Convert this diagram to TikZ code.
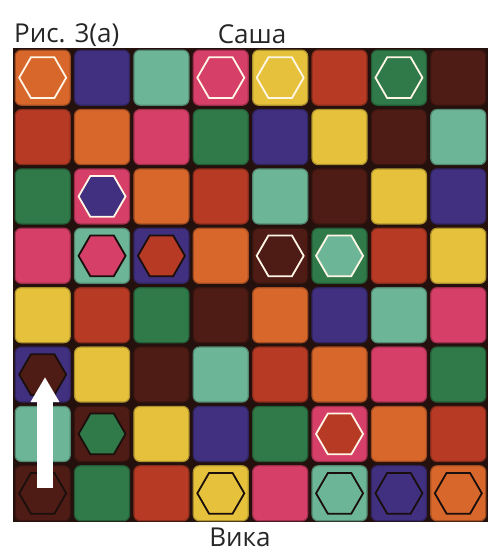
\documentclass[tikz,border=0pt]{standalone}
\usepackage{fontspec}
\setmainfont{Open Sans}
\usetikzlibrary{shapes.geometric,arrows.meta}
\definecolor{cO}{HTML}{D8672C}
\definecolor{cP}{HTML}{40307F}
\definecolor{cT}{HTML}{6DB597}
\definecolor{cK}{HTML}{D63F68}
\definecolor{cY}{HTML}{E6C23C}
\definecolor{cR}{HTML}{B63A24}
\definecolor{cG}{HTML}{2F7A48}
\definecolor{cB}{HTML}{4E1C15}
\definecolor{frame}{HTML}{24100C}
\definecolor{rimw}{HTML}{FFF6E6}
\definecolor{rimk}{HTML}{1A0F0C}
\tikzset{
  tile/.style={rounded corners=6pt,minimum size=55pt,inner sep=0pt,line width=1.2pt},
  hexw/.style={regular polygon,regular polygon sides=6,draw=rimw,line width=1.8pt,
    minimum size=47pt,inner sep=0pt},
  hexk/.style={hexw,draw=rimk},
  caption/.style={font=\fontsize{26}{29}\selectfont,text=black!85,inner sep=0pt},
  moveto/.style={draw=white,line width=16pt,-{Triangle[length=25pt,width=27pt]}}
}
\begin{document}
\begin{tikzpicture}[x=1pt,y=-1pt]
  \useasboundingbox (0,0) rectangle (490,553);
  % board
  \fill[frame] (13,48) rectangle (488,522);
  \foreach \row [count=\r] in {
      {cO,cP,cT,cK,cY,cR,cG,cB},
      {cR,cO,cK,cG,cP,cY,cB,cT},
      {cG,cK,cO,cR,cT,cB,cY,cP},
      {cK,cT,cP,cO,cB,cG,cR,cY},
      {cY,cR,cG,cB,cO,cP,cT,cK},
      {cP,cY,cB,cT,cR,cO,cK,cG},
      {cT,cB,cY,cP,cG,cK,cO,cR},
      {cB,cG,cR,cY,cK,cT,cP,cO}}
    \foreach \c [count=\col] in \row
      \node[tile,fill=\c,draw=\c!75!black] (cell-\r-\col)
        at ({13+(\col-0.5)*59.375},{48+(\r-0.5)*59.375}) {};
  % hexagons, white rim
  \node[hexw,fill=cO] (hex-1-1) at (cell-1-1) {};
  \node[hexw,fill=cK] (hex-1-4) at (cell-1-4) {};
  \node[hexw,fill=cY] (hex-1-5) at (cell-1-5) {};
  \node[hexw,fill=cG] (hex-1-7) at (cell-1-7) {};
  \node[hexw,fill=cP] (hex-3-2) at (cell-3-2) {};
  \node[hexw,fill=cB] (hex-4-5) at (cell-4-5) {};
  \node[hexw,fill=cT] (hex-4-6) at (cell-4-6) {};
  \node[hexw,fill=cR] (hex-7-6) at (cell-7-6) {};
  % hexagons, dark rim
  \node[hexk,fill=cK] (hex-4-2) at (cell-4-2) {};
  \node[hexk,fill=cR] (hex-4-3) at (cell-4-3) {};
  \node[hexk,fill=cB] (hex-6-1) at (cell-6-1) {};
  \node[hexk,fill=cG] (hex-7-2) at (cell-7-2) {};
  \node[hexk,fill=cB] (hex-8-1) at (cell-8-1) {};
  \node[hexk,fill=cY] (hex-8-4) at (cell-8-4) {};
  \node[hexk,fill=cT] (hex-8-6) at (cell-8-6) {};
  \node[hexk,fill=cP] (hex-8-7) at (cell-8-7) {};
  \node[hexk,fill=cO] (hex-8-8) at (cell-8-8) {};
  % move
  \coordinate (start) at (45,488);
  \coordinate (goal) at (45,377);
  \draw[moveto] (start) -- (goal);
  % captions
  \node[caption,anchor=base west] (fig) at (14,43) {Рис. 3(а)};
  \node[caption,anchor=base] (sasha) at (252,44) {Саша};
  \node[caption,anchor=base] (vika) at (240,546) {Вика};
\end{tikzpicture}
\end{document}
